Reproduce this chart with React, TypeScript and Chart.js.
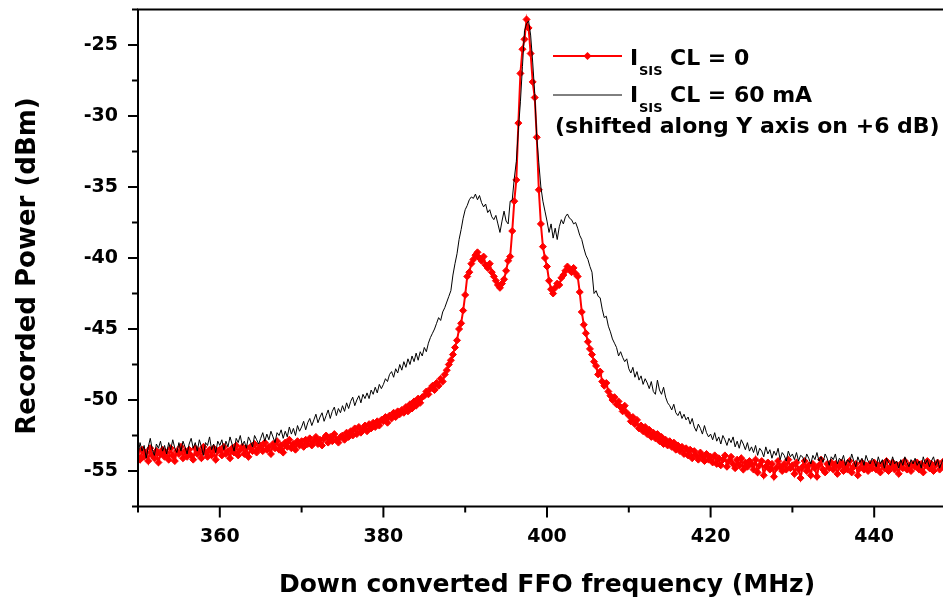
import { useEffect, useRef } from 'react';
import { Chart, registerables } from 'chart.js';

Chart.register(...registerables);

// Frequency grid of the recorded spectra (MHz)
const FREQ_START = 350;
const FREQ_STEP = 0.25;

// I_SIS CL = 60 mA, already shifted by +6 dB (dBm), 350 .. 389.75 MHz
const CL60_LOW = [
  -53.9, -53.0, -53.6, -53.2, -54.1, -53.3, -52.7, -53.5, -53.9, -53.1, -53.4, -52.9, -53.6, -53.2, -53.8, -53.0, -53.5, -52.8, -53.4, -53.7,
  -53.0, -53.6, -52.9, -53.3, -53.8, -53.1, -52.7, -53.4, -53.0, -53.6, -52.8, -53.3, -53.9, -53.0, -53.2, -52.6, -53.5, -53.1, -53.7, -52.9,
  -53.2, -52.8, -53.5, -52.9, -53.3, -52.6, -53.1, -53.6, -52.7, -53.0, -52.5, -53.2, -52.9, -53.4, -52.6, -52.9, -53.3, -52.5, -52.8, -53.1,
  -52.7, -52.3, -52.9, -52.4, -52.8, -52.2, -52.6, -53.0, -52.3, -52.5, -52.1, -52.7, -52.2, -52.6, -51.9, -52.4, -52.0, -52.5, -51.8, -52.2,
  -51.9, -51.5, -52.1, -51.6, -51.3, -51.8, -51.4, -51.0, -51.6, -51.2, -50.9, -51.5, -51.1, -50.7, -51.3, -50.8, -50.5, -51.1, -50.6, -50.9,
  -50.4, -50.8, -50.2, -50.6, -50.1, -49.8, -50.4, -50.0, -49.7, -50.2, -49.6, -49.9, -49.5, -49.9, -49.3, -49.6, -49.1, -49.5, -48.9, -49.2,
  -48.9, -48.5, -48.7, -48.2, -48.0, -48.4, -47.8, -48.1, -47.5, -47.9, -47.3, -47.7, -47.1, -47.5, -46.9, -47.3, -46.7, -47.2, -46.6, -46.9,
  -46.3, -46.6, -46.0, -45.6, -45.3, -45.0, -44.6, -44.2, -44.4, -43.8, -43.5, -43.1, -42.7, -42.3, -41.2, -40.4, -39.7, -38.7, -38.0, -37.2,
];

// I_SIS CL = 60 mA, 390 .. 409.75 MHz (side lobes and main line)
const CL60_PEAK = [
  -36.6, -36.3, -35.9, -35.7, -35.8, -35.5, -35.9, -35.6, -36.1, -36.4, -36.2, -36.8, -36.6, -37.1, -37.3, -37.0, -37.6, -38.2, -37.4, -36.7,
  -37.4, -37.6, -36.0, -35.9, -34.4, -33.2, -31.0, -29.0, -26.5, -24.0, -23.5, -23.3, -24.3, -26.2, -28.4, -31.5, -33.3, -35.0, -36.0, -36.7,
  -37.4, -38.2, -37.6, -38.6, -37.9, -38.7, -37.8, -37.3, -37.6, -37.1, -36.9, -37.2, -37.3, -37.6, -37.5, -37.9, -38.4, -38.7, -39.3, -39.8,
  -40.1, -40.6, -41.0, -42.5, -42.3, -42.7, -42.8, -43.6, -44.2, -44.1, -44.8, -45.2, -45.7, -46.0, -46.3, -46.9, -46.6, -47.0, -47.3, -47.1,
];

// I_SIS CL = 60 mA, 410 .. 450 MHz
const CL60_HIGH = [
  -47.8, -48.1, -47.7, -48.4, -48.0, -48.6, -48.3, -48.9, -48.5, -48.8, -49.2, -48.7, -49.4, -49.6, -48.6, -49.3, -49.6, -49.1, -49.8, -50.2,
  -50.4, -50.7, -50.3, -50.9, -51.1, -50.8, -51.3, -51.0, -51.4, -51.2, -51.7, -51.3, -51.9, -52.2, -51.7, -52.0, -52.4, -51.8, -52.3, -52.6,
  -52.4, -52.8, -52.3, -52.9, -52.6, -53.1, -52.5, -52.8, -53.2, -52.7, -53.0, -52.6, -53.3, -52.9, -53.4, -52.8, -53.1, -53.5, -53.0, -53.6,
  -53.3, -53.7, -53.2, -53.9, -53.4, -53.6, -54.0, -53.3, -53.8, -53.5, -54.1, -53.6, -53.9, -53.4, -54.2, -53.7, -53.9, -54.3, -53.6, -54.0,
  -53.8, -54.2, -53.7, -54.3, -53.9, -54.0, -54.4, -53.8, -54.1, -54.5, -53.9, -54.2, -53.7, -54.3, -54.0, -54.4, -53.8, -54.1, -54.6, -54.0,
  -54.2, -53.8, -54.5, -54.1, -54.3, -53.9, -54.6, -54.2, -54.4, -53.8, -54.3, -54.7, -54.0, -54.4, -54.1, -54.6, -53.9, -54.3, -54.5, -54.1,
  -54.3, -54.7, -54.0, -54.5, -54.2, -54.8, -54.1, -54.4, -54.6, -54.0, -54.5, -54.3, -54.8, -54.2, -54.6, -54.0, -54.4, -54.7, -54.2, -54.5,
  -54.1, -54.6, -54.3, -54.8, -54.0, -54.5, -54.2, -54.7, -54.3, -54.0, -54.6, -54.2, -54.8, -54.4, -54.1, -54.5, -54.9, -54.2, -54.6, -54.3,
  -54.4,
];

// I_SIS CL = 0 (dBm), 350 .. 389.75 MHz
const CL0_LOW = [
  -53.6, -54.2, -53.5, -54.0, -53.7, -54.3, -53.4, -53.9, -54.1, -53.6, -54.4, -53.8, -53.5, -54.0, -53.7, -54.2, -53.4, -53.9, -54.3, -53.6,
  -53.8, -53.3, -54.1, -53.6, -54.0, -53.5, -53.9, -54.2, -53.4, -53.8, -53.6, -54.1, -53.3, -53.7, -54.0, -53.5, -53.9, -53.4, -54.2, -53.6,
  -53.5, -53.9, -53.3, -53.8, -53.6, -54.1, -53.4, -53.7, -53.2, -53.9, -53.5, -53.3, -53.8, -53.4, -54.0, -53.3, -53.6, -53.1, -53.7, -53.4,
  -53.2, -53.6, -53.0, -53.5, -53.3, -53.8, -53.1, -53.4, -52.9, -53.5, -53.2, -53.7, -53.0, -53.3, -52.8, -53.4, -53.1, -53.5, -52.9, -53.2,
  -52.9, -53.3, -52.8, -53.1, -52.7, -53.2, -52.9, -52.6, -53.1, -52.8, -53.2, -52.7, -52.5, -53.0, -52.6, -52.9, -52.4, -52.8, -53.0, -52.6,
  -52.5, -52.8, -52.3, -52.6, -52.2, -52.5, -52.0, -52.4, -51.9, -52.3, -52.1, -51.8, -52.2, -51.7, -52.0, -51.6, -51.9, -51.5, -51.8, -51.4,
  -51.5, -51.2, -51.6, -51.1, -51.3, -50.9, -51.2, -50.8, -51.0, -50.7, -50.9, -50.5, -50.8, -50.3, -50.6, -50.1, -50.4, -49.9, -50.2, -49.8,
  -49.7, -49.4, -49.6, -49.2, -49.0, -49.3, -48.8, -49.0, -48.5, -48.7, -48.2, -47.9, -47.5, -47.2, -46.8, -46.3, -45.8, -45.0, -44.6, -43.7,
];

// I_SIS CL = 0, 390 .. 409.75 MHz
const CL0_PEAK = [
  -42.6, -41.3, -41.0, -40.4, -40.1, -39.8, -39.6, -40.0, -40.2, -39.9, -40.5, -40.7, -40.4, -41.0, -41.3, -41.6, -41.9, -42.1, -41.8, -41.5,
  -40.9, -40.2, -39.9, -38.1, -36.0, -34.5, -30.5, -27.0, -25.3, -24.6, -23.2, -23.8, -25.6, -27.6, -28.7, -31.5, -35.2, -37.6, -39.2, -40.0,
  -40.6, -41.6, -42.2, -42.5, -42.1, -41.8, -41.9, -41.4, -41.2, -40.9, -40.6, -40.8, -41.0, -40.7, -41.1, -41.3, -42.4, -43.8, -44.7, -45.3,
  -45.9, -46.4, -46.8, -47.3, -47.6, -48.2, -48.0, -48.7, -49.0, -48.8, -49.4, -49.7, -50.0, -49.8, -50.3, -50.1, -50.5, -50.8, -50.4, -50.9,
];

// I_SIS CL = 0, 410 .. 450 MHz
const CL0_HIGH = [
  -51.1, -51.5, -51.2, -51.7, -51.4, -52.0, -51.8, -52.2, -51.9, -52.4, -52.1, -52.6, -52.3, -52.7, -52.4, -52.9, -52.6, -53.1, -52.8, -53.2,
  -52.9, -53.3, -53.0, -53.5, -53.2, -53.6, -53.3, -53.8, -53.4, -53.9, -53.5, -54.1, -53.6, -53.9, -54.2, -53.7, -54.0, -54.3, -53.8, -54.2,
  -54.0, -54.4, -53.9, -54.5, -54.1, -54.6, -54.2, -53.9, -54.7, -54.3, -54.0, -54.5, -54.8, -54.2, -54.6, -54.1, -54.9, -54.4, -54.7, -54.3,
  -54.5, -54.9, -54.2, -55.1, -54.6, -54.3, -55.3, -54.7, -54.4, -54.9, -54.5, -55.4, -54.8, -54.3, -54.7, -55.0, -54.5, -54.9, -54.2, -54.8,
  -54.6, -55.2, -54.4, -54.9, -55.5, -54.7, -54.3, -55.0, -54.6, -55.3, -54.5, -54.8, -55.4, -54.6, -54.2, -54.9, -55.1, -54.5, -54.8, -54.4,
  -54.9, -54.5, -55.2, -54.7, -54.4, -55.0, -54.6, -54.9, -54.3, -55.1, -54.7, -54.5, -55.3, -54.8, -54.4, -54.9, -54.6, -55.0, -54.5, -54.8,
  -54.4, -54.9, -54.6, -55.1, -54.5, -54.8, -54.3, -55.0, -54.7, -54.4, -54.9, -54.6, -55.2, -54.5, -54.8, -54.3, -54.9, -54.6, -55.0, -54.5,
  -54.7, -54.4, -54.9, -54.5, -55.1, -54.6, -54.3, -54.8, -54.5, -55.0, -54.6, -54.4, -54.9, -54.7, -54.3, -54.8, -55.0, -54.5, -54.7, -54.4,
  -54.6,
];

// Axis ranges and labelled ticks
const X_MIN = 350;
const X_MAX = 450;
const X_STEP = 10;
const X_LABELS = [360, 380, 400, 420, 440];
const Y_MIN = -57.5;
const Y_MAX = -22.5;
const Y_STEP = 2.5;
const Y_LABELS = [-25, -30, -35, -40, -45, -50, -55];

const X_TITLE = 'Down converted FFO frequency (MHz)';
const Y_TITLE = 'Recorded Power (dBm)';
const LEGEND_CL0 = 'CL = 0';
const LEGEND_CL60 = 'CL = 60 mA';
const LEGEND_NOTE = '(shifted along Y axis on +6 dB)';

const FONT = "'DejaVu Sans', 'Liberation Sans', sans-serif";
const RED = '#ff0000';

function toPoints(values: number[]) {
  return values.map((y, i) => ({ x: FREQ_START + i * FREQ_STEP, y }));
}

const frameAndLabels = {
  id: 'frameAndLabels',
  afterDraw(chart: any) {
    const { ctx, chartArea: a, scales } = chart;
    ctx.save();

    // plot frame
    ctx.strokeStyle = '#000';
    ctx.lineWidth = 2;
    ctx.strokeRect(a.left, a.top, a.right - a.left, a.bottom - a.top);

    // outward tick marks
    ctx.beginPath();
    for (const t of scales.y.ticks) {
      const p = scales.y.getPixelForValue(t.value);
      const len = Y_LABELS.includes(t.value) ? 10 : 6;
      ctx.moveTo(a.left, p);
      ctx.lineTo(a.left - len, p);
    }
    for (const t of scales.x.ticks) {
      const p = scales.x.getPixelForValue(t.value);
      const len = X_LABELS.includes(t.value) ? 11 : 6;
      ctx.moveTo(p, a.bottom);
      ctx.lineTo(p, a.bottom + len);
    }
    ctx.stroke();

    // axis titles
    ctx.fillStyle = '#000';
    ctx.textBaseline = 'alphabetic';
    ctx.textAlign = 'center';
    ctx.font = `bold 25px ${FONT}`;
    ctx.fillText(X_TITLE, (a.left + a.right) / 2, a.bottom + 85);

    ctx.save();
    ctx.translate(27, (a.top + a.bottom) / 2 + 8);
    ctx.rotate(-Math.PI / 2);
    ctx.font = `bold 26px ${FONT}`;
    ctx.fillText(Y_TITLE, 0, 0);
    ctx.restore();

    // legend
    ctx.textAlign = 'left';
    const lx0 = 545;
    const lx1 = 614;

    ctx.strokeStyle = RED;
    ctx.lineWidth = 2;
    ctx.beginPath();
    ctx.moveTo(lx0, 48);
    ctx.lineTo(lx1, 48);
    ctx.stroke();
    const mx = (lx0 + lx1) / 2;
    ctx.fillStyle = RED;
    ctx.beginPath();
    ctx.moveTo(mx, 44);
    ctx.lineTo(mx + 4, 48);
    ctx.lineTo(mx, 52);
    ctx.lineTo(mx - 4, 48);
    ctx.closePath();
    ctx.fill();

    ctx.strokeStyle = '#000';
    ctx.lineWidth = 1;
    ctx.beginPath();
    ctx.moveTo(lx0, 87);
    ctx.lineTo(lx1, 87);
    ctx.stroke();

    const entry = (base: number, rest: string) => {
      ctx.fillStyle = '#000';
      ctx.font = `bold 22px ${FONT}`;
      ctx.fillText('I', 622, base);
      ctx.font = `bold 13px ${FONT}`;
      ctx.fillText('SIS', 631, base + 10);
      ctx.font = `bold 22px ${FONT}`;
      ctx.fillText(rest, 662, base);
    };
    entry(57, LEGEND_CL0);
    entry(94, LEGEND_CL60);
    ctx.font = `bold 22px ${FONT}`;
    ctx.fillText(LEGEND_NOTE, 547, 125);

    ctx.restore();
  },
};

export default function App() {
  const canvasRef = useRef<HTMLCanvasElement>(null);

  useEffect(() => {
    const canvas = canvasRef.current;
    if (!canvas) return;
    const tickFont = { family: FONT, size: 19, weight: 'bold' as const };

    const chart = new Chart(canvas, {
      type: 'line',
      data: {
        datasets: [
          {
            label: 'I_SIS CL = 0',
            data: toPoints([...CL0_LOW, ...CL0_PEAK, ...CL0_HIGH]),
            borderColor: RED,
            backgroundColor: RED,
            borderWidth: 2,
            pointStyle: 'rectRot',
            pointRadius: 3.5,
            pointBorderWidth: 1,
            pointBackgroundColor: RED,
            pointBorderColor: RED,
            tension: 0,
            order: 2,
          },
          {
            label: 'I_SIS CL = 60 mA',
            data: toPoints([...CL60_LOW, ...CL60_PEAK, ...CL60_HIGH]),
            borderColor: '#000',
            borderWidth: 1,
            pointRadius: 0,
            tension: 0,
            order: 1,
          },
        ],
      },
      options: {
        responsive: false,
        maintainAspectRatio: false,
        animation: false,
        events: [],
        layout: { autoPadding: false, padding: { top: 1.5, right: 12, left: 0, bottom: 0 } },
        plugins: {
          legend: { display: false },
          title: { display: false },
          tooltip: { enabled: false },
        },
        scales: {
          x: {
            type: 'linear',
            min: X_MIN,
            max: X_MAX,
            offset: false,
            grid: { display: false, drawTicks: false },
            border: { display: false },
            afterFit: (s: any) => {
              s.height = 93.5;
              s.paddingLeft = 0;
              s.paddingRight = 0;
              s.paddingTop = 0;
              s.paddingBottom = 0;
            },
            ticks: {
              stepSize: X_STEP,
              autoSkip: false,
              maxRotation: 0,
              padding: 19,
              color: '#000',
              font: tickFont,
              callback: (v: any) => (X_LABELS.includes(Number(v)) ? String(v) : ''),
            },
          },
          y: {
            type: 'linear',
            min: Y_MIN,
            max: Y_MAX,
            grid: { display: false, drawTicks: false },
            border: { display: false },
            afterFit: (s: any) => {
              s.width = 130;
              s.paddingLeft = 0;
              s.paddingRight = 0;
              s.paddingTop = 0;
              s.paddingBottom = 0;
            },
            ticks: {
              stepSize: Y_STEP,
              autoSkip: false,
              padding: 20,
              color: '#000',
              font: tickFont,
              callback: (v: any) => (Y_LABELS.includes(Number(v)) ? String(v) : ''),
            },
          },
        },
      },
      plugins: [frameAndLabels],
    });

    return () => chart.destroy();
  }, []);

  return (
    <div style={{ width: 943, height: 592, overflow: 'hidden' }}>
      <canvas ref={canvasRef} width={960} height={592} style={{ display: 'block' }} />
    </div>
  );
}
